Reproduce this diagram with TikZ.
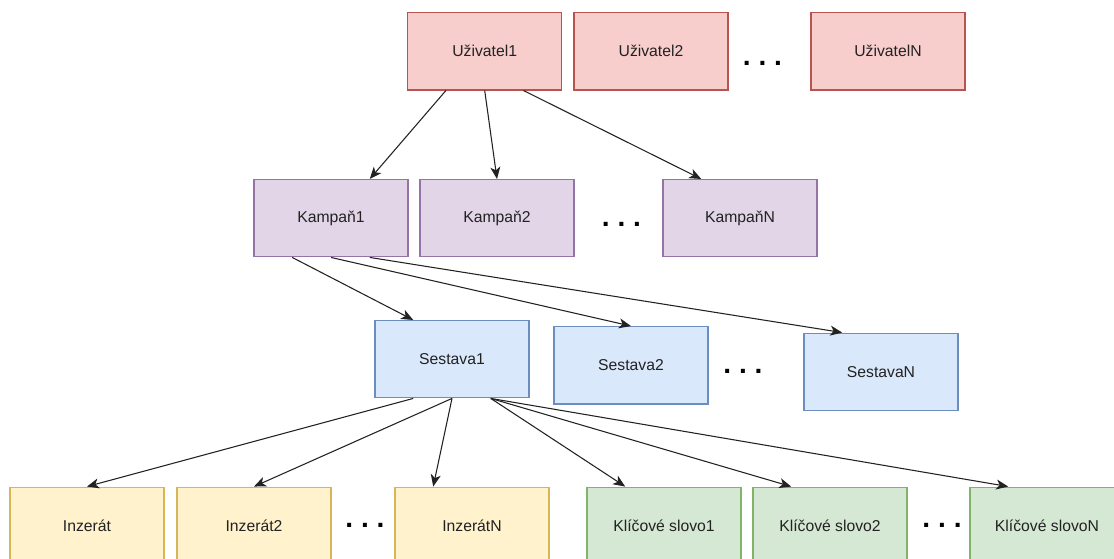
\documentclass[tikz,border=0pt]{standalone}
\usepackage{fontspec}
\setmainfont{Liberation Sans}
\usetikzlibrary{calc,arrows.meta}

\definecolor{userfill}{HTML}{F8CECC}\definecolor{userline}{HTML}{B85450}
\definecolor{campfill}{HTML}{E1D5E7}\definecolor{campline}{HTML}{9673A6}
\definecolor{setfill}{HTML}{DAE8FC}\definecolor{setline}{HTML}{6C8EBF}
\definecolor{adfill}{HTML}{FFF2CC}\definecolor{adline}{HTML}{D6B656}
\definecolor{kwfill}{HTML}{D5E8D4}\definecolor{kwline}{HTML}{82B366}
\definecolor{ink}{HTML}{222222}

% three bold dots with fixed spacing
\newcommand{\threedots}{.\kern5.9pt.\kern5.9pt.}

\begin{document}
\begin{tikzpicture}[x=0.75pt,y=-0.75pt,
  box/.style={draw, line width=0.85pt, minimum width=115.5pt, minimum height=58pt,
    inner sep=0pt, text=ink, font=\fontsize{11.8}{13}\selectfont},
  userbox/.style={box, fill=userfill, draw=userline},
  campbox/.style={box, fill=campfill, draw=campline},
  setbox/.style={box, fill=setfill, draw=setline},
  adbox/.style={box, fill=adfill, draw=adline},
  kwbox/.style={box, fill=kwfill, draw=kwline},
  ellipsis/.style={anchor=base, inner sep=0pt, text=black,
    font=\fontsize{21}{21}\selectfont\bfseries},
  link/.style={draw=ink, line width=0.8pt,
    -{Stealth[length=9pt,width=7.5pt,inset=2.5pt]}}]

\useasboundingbox (0,0) rectangle (1114,559);
\clip (0,0) rectangle (1114,559);

% users
\node[userbox] (u1) at (484.7,51.3) {Uživatel1};
\node[userbox] (u2) at (651,51.3) {Uživatel2};
\node[userbox] (uN) at (888,51.3) {UživatelN};
\node[ellipsis] (ud) at (762.5,66) {\threedots};

% campaigns
\node[campbox] (k1) at (331,218.2) {Kampaň1};
\node[campbox] (k2) at (497,218.2) {Kampaň2};
\node[campbox] (kN) at (740,218.2) {KampaňN};
\node[ellipsis] (kd) at (621.5,226.3) {\threedots};

% ad groups
\node[setbox] (s1) at (452,359.2) {Sestava1};
\node[setbox] (s2) at (631,365.3) {Sestava2};
\node[setbox] (sN) at (881,371.8) {SestavaN};
\node[ellipsis] (sd) at (743,374) {\threedots};

% ads and keywords
\node[adbox] (i1) at (87,525.8) {Inzerát};
\node[adbox] (i2) at (254,525.8) {Inzerát2};
\node[adbox] (iN) at (472,525.8) {InzerátN};
\node[ellipsis] (id) at (365,527.3) {\threedots};
\node[kwbox] (w1) at (664,525.8) {Klíčové slovo1};
\node[kwbox] (w2) at (830,525.8) {Klíčové slovo2};
\node[kwbox] (wN) at (1047,525.8) {Klíčové slovoN};
\node[ellipsis] (wd) at (942,527.3) {\threedots};

% user -> campaigns
\draw[link] ($(u1.south west)!.25!(u1.south east)$) -- ($(k1.north west)!.75!(k1.north east)$);
\draw[link] ($(u1.south west)!.5!(u1.south east)$) -- ($(k2.north west)!.5!(k2.north east)$);
\draw[link] ($(u1.south west)!.75!(u1.south east)$) -- ($(kN.north west)!.25!(kN.north east)$);

% campaign -> ad groups
\draw[link] ($(k1.south west)!.25!(k1.south east)$) -- ($(s1.north west)!.25!(s1.north east)$);
\draw[link] ($(k1.south west)!.5!(k1.south east)$) -- ($(s2.north west)!.5!(s2.north east)$);
\draw[link] ($(k1.south west)!.75!(k1.south east)$) -- ($(sN.north west)!.25!(sN.north east)$);

% ad group -> ads and keywords
\draw[link] ($(s1.south west)!.25!(s1.south east)$) -- ($(i1.north west)!.5!(i1.north east)$);
\draw[link] ($(s1.south west)!.5!(s1.south east)$) -- ($(i2.north west)!.5!(i2.north east)$);
\draw[link] ($(s1.south west)!.5!(s1.south east)$) -- ($(iN.north west)!.25!(iN.north east)$);
\draw[link] ($(s1.south west)!.75!(s1.south east)$) -- ($(w1.north west)!.25!(w1.north east)$);
\draw[link] ($(s1.south west)!.75!(s1.south east)$) -- ($(w2.north west)!.25!(w2.north east)$);
\draw[link] ($(s1.south west)!.75!(s1.south east)$) -- ($(wN.north west)!.25!(wN.north east)$);
\end{tikzpicture}
\end{document}
